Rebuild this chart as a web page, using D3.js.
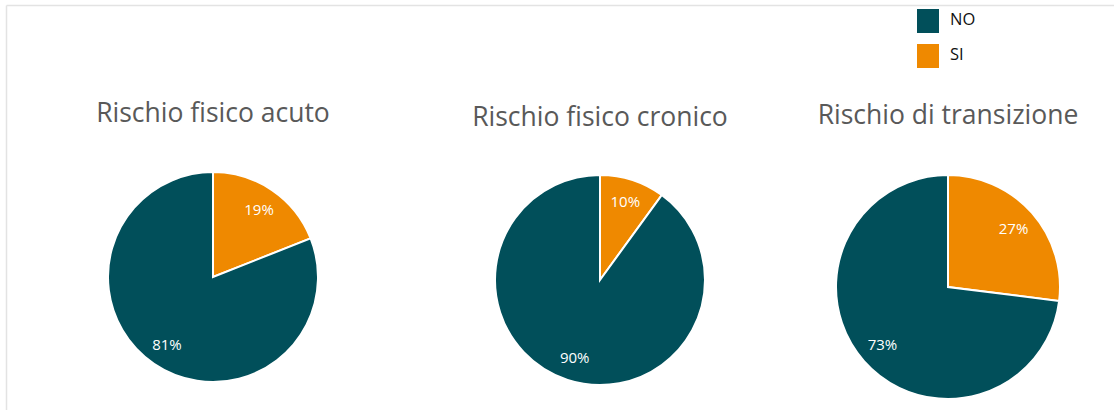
<!DOCTYPE html>
<html>
<head>
<meta charset="utf-8">
<script src="https://cdn.jsdelivr.net/npm/d3@7"></script>
<style>
  html, body { margin: 0; padding: 0; background: #fff; }
  svg { display: block; }
</style>
</head>
<body>
<svg id="chart" width="1114" height="410"></svg>
<script>
// ---- data ----
var categories = ["SI", "NO"]
var titles = ["Rischio fisico acuto", "Rischio fisico cronico", "Rischio di transizione"]
var siValues = [19, 10, 27]
var noValues = [81, 90, 73]
var legendOrder = ["NO", "SI"]

// ---- layout (panel placement only) ----
var panels = [
  { cx: 213, cy: 277, r: 105, titleY: 122 },
  { cx: 600, cy: 280, r: 105, titleY: 126 },
  { cx: 948, cy: 287, r: 112, titleY: 124 }
]

var color = d3.scaleOrdinal()
  .domain(["NO", "SI"])
  .range(["#014f5a", "#ef8900"])

var svg = d3.select("#chart")

// frame lines top/left
svg.append("line")
  .attr("x1", 6.5).attr("y1", 5.5).attr("x2", 1114).attr("y2", 5.5)
  .attr("stroke", "#e3e3e3").attr("stroke-width", 1.5)
svg.append("line")
  .attr("x1", 6.5).attr("y1", 5.5).attr("x2", 6.5).attr("y2", 410)
  .attr("stroke", "#e3e3e3").attr("stroke-width", 1.5)

var pie = d3.pie().sort(null).value(function(d) { return d.value })

titles.forEach(function(title, i) {
  var p = panels[i]
  var data = [
    { key: "SI", value: siValues[i] },
    { key: "NO", value: noValues[i] }
  ]
  var arc = d3.arc().innerRadius(0).outerRadius(p.r)
  var labelArc = d3.arc().innerRadius(p.r * 0.78).outerRadius(p.r * 0.78)

  var g = svg.append("g").attr("transform", "translate(" + p.cx + "," + p.cy + ")")

  g.selectAll("path")
    .data(pie(data))
    .enter().append("path")
    .attr("d", arc)
    .attr("fill", function(d) { return color(d.data.key) })
    .attr("stroke", "#fff")
    .attr("stroke-width", 2)

  g.selectAll("text")
    .data(pie(data))
    .enter().append("text")
    .attr("transform", function(d) { return "translate(" + labelArc.centroid(d) + ")" })
    .attr("text-anchor", "middle")
    .attr("dy", "0.35em")
    .attr("font-family", "Open Sans, sans-serif")
    .attr("font-size", "15px")
    .attr("fill", "#fff")
    .text(function(d) { return d.data.value + "%" })

  svg.append("text")
    .attr("x", p.cx)
    .attr("y", p.titleY)
    .attr("text-anchor", "middle")
    .attr("font-family", "Open Sans, sans-serif")
    .attr("font-size", "26.5px")
    .attr("fill", "#595959")
    .text(title)
})

// ---- legend ----
var legend = svg.append("g").attr("transform", "translate(917,9)")
var items = legend.selectAll("g")
  .data(legendOrder)
  .enter().append("g")
  .attr("transform", function(d, i) { return "translate(0," + (i * 35) + ")" })
items.append("rect")
  .attr("width", 22).attr("height", 24)
  .attr("fill", function(d) { return color(d) })
items.append("text")
  .attr("x", 33).attr("y", 10).attr("dy", "0.35em")
  .attr("font-family", "Open Sans, sans-serif")
  .attr("font-size", "16.5px")
  .attr("fill", "#111")
  .text(function(d) { return d })
</script>
</body>
</html>
